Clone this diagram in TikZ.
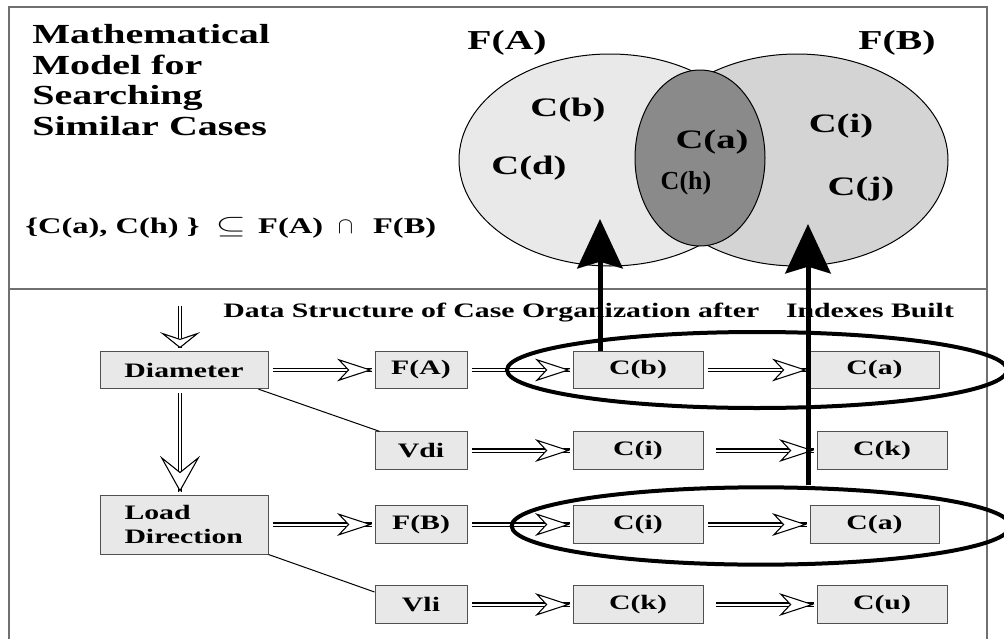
\documentclass[tikz,border=0pt]{standalone}
\usepackage{graphicx}
\usepackage{fontspec}
\setmainfont{Liberation Serif}[FakeStretch=1.45]
\newfontfamily\plainserif{Liberation Serif}
\usetikzlibrary{arrows.meta,shapes.geometric}

\definecolor{setAfill}{HTML}{E9E9E9}
\definecolor{setBfill}{HTML}{D4D4D4}
\definecolor{corefill}{HTML}{8A8A8A}
\definecolor{boxfill}{HTML}{E8E8E8}
\definecolor{boxline}{HTML}{505050}
\definecolor{frameline}{HTML}{707070}

\begin{document}
\begin{tikzpicture}[x=0.75pt,y=-0.75pt,
    frame/.style={frameline,line width=1.1pt},
    box/.style={draw=boxline,fill=boxfill,line width=0.75pt,inner sep=0pt,
        minimum height=28pt,font=\fontsize{15.4}{17.3}\selectfont\bfseries},
    hollow/.style={draw=white,line width=0.8pt,shorten <=3pt,shorten >=2pt,
        -{Stealth[color=black,fill=white,length=26pt,width=17pt,inset=8pt]},
        preaction={draw=black,double=white,double distance=1.5pt,line width=0.8pt,-}},
    ring/.style={ellipse,draw,line width=3pt,inner sep=0pt},
    lift/.style={line width=3.75pt,-{Stealth[length=37pt,width=34pt,inset=5pt]}},
    setlabel/.style={font=\fontsize{20.5}{22}\selectfont\bfseries,inner sep=0pt}]
\useasboundingbox (0,0) rectangle (1004,639);

% frame
\draw[frame] (9,660) -- (9,7) -- (987,7) -- (987,660);
\draw[frame] (9,289) -- (987,289);

% model text
\node[anchor=north west,inner sep=0pt,align=left,
    font=\fontsize{20.7}{23}\selectfont\bfseries] (title) at (32,24)
    {Mathematical\\Model for\\Searching\\Similar Cases};
\node[anchor=base west,inner sep=0pt,font=\fontsize{16.8}{18}\selectfont\bfseries]
    (incl) at (25,233) {\{C(a), C(h) \}\hspace{12pt}\scalebox{1.7}[1.1]{$\subseteq$}\hspace{9pt}F(A)\hspace{11pt}$\cap$\hspace{15pt}F(B)};

% sets F(A), F(B)
\filldraw[fill=setAfill,draw=black,line width=0.75pt] (610,160) ellipse [x radius=113.25pt,y radius=79.5pt];
\filldraw[fill=setBfill,draw=black,line width=0.75pt] (797,160) ellipse [x radius=113.25pt,y radius=79.5pt];
\filldraw[fill=corefill,draw=black,line width=0.75pt] (700,158) ellipse [x radius=48.75pt,y radius=66pt];

\node[setlabel] (labFA) at (507,43) {F(A)};
\node[setlabel] (labFB) at (897,43) {F(B)};
\node[setlabel,font=\fontsize{20}{22}\selectfont\bfseries] (vcb) at (568,110) {C(b)};
\node[setlabel,font=\fontsize{20}{22}\selectfont\bfseries] (vcd) at (529,168) {C(d)};
\node[setlabel,font=\fontsize{20}{22}\selectfont\bfseries] (vca) at (712,142) {C(a)};
\node[setlabel,font=\fontsize{19.5}{22}\selectfont\plainserif\bfseries] (vch) at (686,183) {C(h)};
\node[setlabel,font=\fontsize{20}{22}\selectfont\bfseries] (vci) at (841,126) {C(i)};
\node[setlabel,font=\fontsize{20}{22}\selectfont\bfseries] (vcj) at (861,189) {C(j)};

% data structure
\node[anchor=base west,inner sep=0pt,font=\fontsize{15.4}{17}\selectfont\bfseries]
    (head) at (223,317) {Data Structure of Case Organization after\hspace{20pt}Indexes Built};

\node[box,minimum width=126pt] (diam) at (184,370) {Diameter};
\node[box,minimum width=126pt,minimum height=44.25pt,align=left,text width=89.25pt]
    (load) at (184,524.5) {Load\\Direction};

\node[box,minimum width=69pt] (fa) at (421,370) {F(A)};
\node[box,minimum width=69pt] (vdi) at (421,450.5) {Vdi};
\node[box,minimum width=69pt] (fb) at (421,524.5) {F(B)};
\node[box,minimum width=69pt] (vli) at (421,604.5) {Vli};

\node[box,minimum width=97.5pt] (cb) at (638,370) {C(b)};
\node[box,minimum width=97.5pt] (ci) at (638,450.5) {C(i)};
\node[box,minimum width=97.5pt] (cib) at (638,524.5) {C(i)};
\node[box,minimum width=97.5pt] (ck) at (638,604.5) {C(k)};

\node[box,minimum width=96.75pt] (ca) at (874.5,370) {C(a)};
\node[box,minimum width=97.5pt] (ckb) at (882,450.5) {C(k)};
\node[box,minimum width=96.75pt] (cab) at (874.5,524.5) {C(a)\hspace{12pt}};
\node[box,minimum width=97.5pt] (cu) at (882,604.5) {C(u)};

\coordinate (entry) at (180,306);
\draw[hollow,shorten <=0pt,-{Stealth[color=black,fill=white,length=12pt,width=30pt,inset=5pt]}]
    (entry) -- (entry |- diam.north);
\draw[hollow,-{Stealth[color=black,fill=white,length=27pt,width=30pt,inset=12pt]}]
    (entry |- diam.south) -- (entry |- load.north);

\draw[line width=0.75pt] ([xshift=-7.5pt]diam.south east) -- ([xshift=3.75pt]vdi.north west);
\draw[line width=0.75pt] (load.south east) -- ([yshift=-5pt]vli.north west);

\draw[hollow] (diam) -- (fa);
\draw[hollow] (fa) -- (cb);
\draw[hollow] (cb) -- (ca);
\draw[hollow] (vdi) -- (ci);
\draw[hollow,shorten <=9pt] (ci) -- (ckb);
\draw[hollow] (load) -- (fb);
\draw[hollow] (fb) -- (cib);
\draw[hollow] (cib) -- (cab);
\draw[hollow] (vli) -- (ck);
\draw[hollow,shorten <=9pt] (ck) -- (cu);

% groups found by the indexes
\node[ring,minimum width=375pt,minimum height=57pt] (grpA) at (757,370) {};
\node[ring,minimum width=374pt,minimum height=58pt] (grpB) at (761,526) {};

\coordinate (tipA) at (600,219);
\coordinate (tipB) at (808,224);
\draw[lift] (tipA |- cb.north) -- (tipA);
\draw[lift] (tipB |- grpB.north) -- (tipB);

\end{tikzpicture}
\end{document}
